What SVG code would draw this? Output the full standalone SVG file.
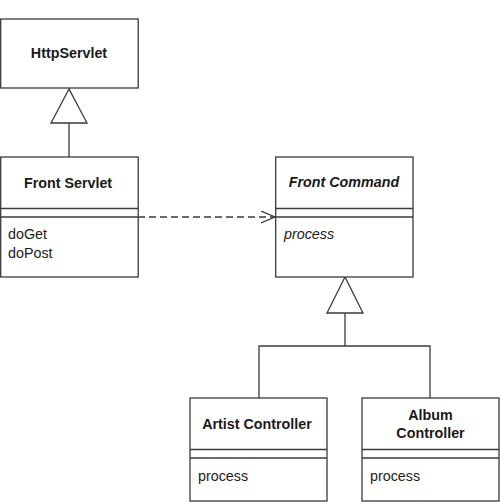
<svg xmlns="http://www.w3.org/2000/svg" width="500" height="502" viewBox="0 0 500 502">
<defs>
<style>
.box{fill:#fff;stroke:#3a3a3a;stroke-width:1.3}
.ln{fill:none;stroke:#3a3a3a;stroke-width:1.3}
.tri{fill:#fff;stroke:#3a3a3a;stroke-width:1.3}
.t{font-family:"Liberation Sans",Arial,sans-serif;font-size:14.3px;fill:#1a1a1a}
.b{font-weight:bold;text-anchor:middle}
.i{font-style:italic}
</style>
<marker id="open" markerWidth="16" markerHeight="14" refX="14" refY="6" orient="auto" markerUnits="userSpaceOnUse">
<path d="M0,0 L14,6 L0,12" fill="none" stroke="#3a3a3a" stroke-width="1.3"/>
</marker>
</defs>
<rect width="500" height="502" fill="#fff"/>
<g id="connectors">
<line class="ln" x1="69" y1="123" x2="69" y2="157"/>
<polygon class="tri" points="69,89 51,123 87,123"/>
<line class="ln" x1="345" y1="313" x2="345" y2="346"/>
<polyline class="ln" points="259,398 259,346 430,346 430,398"/>
<polygon class="tri" points="345,277 327,313 363,313"/>
<line class="ln" x1="138" y1="217" x2="275" y2="217" stroke-dasharray="7,4" marker-end="url(#open)"/>
</g>
<g id="httpservlet">
<rect class="box" x="0.7" y="19" width="137.5" height="69"/>
<text class="t b" x="69" y="58">HttpServlet</text>
</g>
<g id="frontservlet">
<rect class="box" x="0.7" y="157" width="137.5" height="120"/>
<line class="ln" x1="0.7" y1="208.5" x2="138.2" y2="208.5"/>
<line class="ln" x1="0.7" y1="217" x2="138.2" y2="217"/>
<text class="t b" x="68" y="188">Front Servlet</text>
<text class="t" x="8" y="239">doGet</text>
<text class="t" x="8" y="258">doPost</text>
</g>
<g id="frontcommand">
<rect class="box" x="275.7" y="157" width="137.3" height="120"/>
<line class="ln" x1="275.7" y1="208.5" x2="413" y2="208.5"/>
<line class="ln" x1="275.7" y1="217" x2="413" y2="217"/>
<text class="t b i" x="344" y="187">Front Command</text>
<text class="t i" x="284" y="239">process</text>
</g>
<g id="artistcontroller">
<rect class="box" x="190" y="398" width="137" height="103"/>
<line class="ln" x1="190" y1="449.5" x2="327" y2="449.5"/>
<line class="ln" x1="190" y1="458" x2="327" y2="458"/>
<text class="t b" x="257" y="429">Artist Controller</text>
<text class="t" x="198" y="481">process</text>
</g>
<g id="albumcontroller">
<rect class="box" x="362" y="398" width="137" height="103"/>
<line class="ln" x1="362" y1="449.5" x2="499" y2="449.5"/>
<line class="ln" x1="362" y1="458" x2="499" y2="458"/>
<text class="t b" x="430.5" y="420">Album</text>
<text class="t b" x="430.5" y="438">Controller</text>
<text class="t" x="370" y="481">process</text>
</g>
</svg>
